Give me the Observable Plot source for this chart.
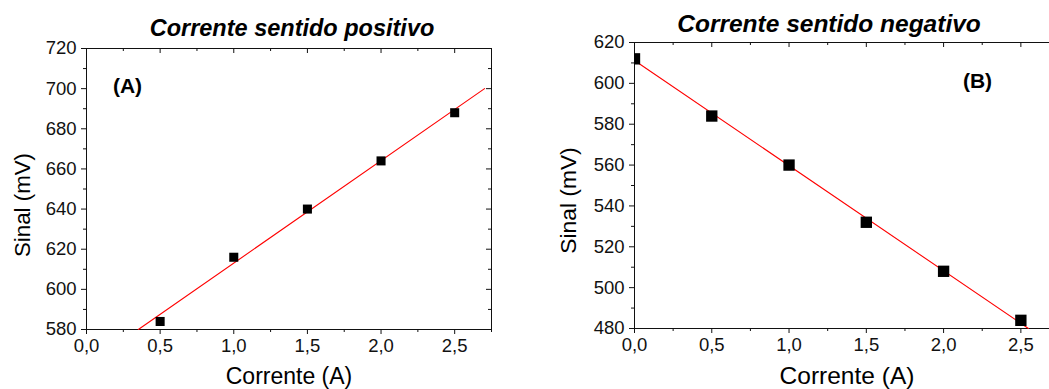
<!DOCTYPE html>
<html>
<head>
<meta charset="utf-8">
<script src="https://cdn.jsdelivr.net/npm/d3@7"></script>
<script src="https://cdn.jsdelivr.net/npm/@observablehq/plot@0.6"></script>
<style>
  html, body { margin: 0; padding: 0; background: #fff; overflow: hidden; }
  #wrap { position: relative; width: 1049px; height: 389px; overflow: hidden; font-family: "Liberation Sans", Arial, sans-serif; }
  #wrap svg { position: absolute; top: 0; overflow: visible; }
</style>
</head>
<body>
<div id="wrap"></div>
<script>
// ---- data ----
const titleA = "Corrente sentido positivo";
const titleB = "Corrente sentido negativo";
const xLabel = "Corrente (A)";
const yLabel = "Sinal (mV)";
const tagA = "(A)";
const tagB = "(B)";

const currentA = [0.5, 1.0, 1.5, 2.0, 2.5];
const signalA  = [584, 616, 640, 664, 688];
const currentB = [0.0, 0.5, 1.0, 1.5, 2.0, 2.5];
const signalB  = [612, 584, 560, 532, 508, 484];

// fitted straight lines (end points)
const fitAx = [0.352, 2.703];
const fitAy = [580, 700];
const fitBx = [0.0, 2.549];
const fitBy = [611.2, 480];

const xTicks  = [0, 0.5, 1.0, 1.5, 2.0, 2.5];
const xMinor  = [0.25, 0.75, 1.25, 1.75, 2.25, 2.75];
const yTicksA = [580, 600, 620, 640, 660, 680, 700, 720];
const yMinorA = [590, 610, 630, 650, 670, 690, 710];
const yTicksB = [480, 500, 520, 540, 560, 580, 600, 620];
const yMinorB = [490, 510, 530, 550, 570, 590, 610];

const xDomain  = [0, 2.75];
const yDomainA = [580, 720];
const yDomainB = [480, 620];

// ---- helpers ----
const fmt = d => d.toFixed(1).replace(".", ",");
const blank = () => "";
const toRows = (xs, ys) => xs.map((x, i) => ({x, y: ys[i]}));

function panel(o) {
  const pw = o.w - o.ml - o.mr;   // inner plot width
  const ph = o.h - o.mt - o.mb;   // inner plot height
  const axisStyle = {stroke: "#111", fontSize: o.tickFont, label: null};
  const tickStyle = {stroke: "#111", strokeWidth: 1};
  return Plot.plot({
    width: o.w, height: o.h,
    marginLeft: o.ml, marginRight: o.mr, marginTop: o.mt, marginBottom: o.mb,
    style: {fontFamily: "'Liberation Sans', Arial, sans-serif", fontSize: o.tickFont + "px", color: "#111", background: "transparent", overflow: "visible"},
    x: {domain: xDomain},
    y: {domain: o.yDomain},
    marks: [
      Plot.frame({stroke: "#111", strokeWidth: 1}),
      // bottom axis (outward ticks)
      Plot.axisX(xTicks, {...axisStyle, anchor: "bottom", tickSize: 5, tickPadding: 4, tickFormat: fmt}),
      Plot.axisX(xMinor, {...axisStyle, anchor: "bottom", tickSize: 3, tickFormat: blank}),
      // left axis (outward ticks)
      Plot.axisY(o.yTicks, {...axisStyle, anchor: "left", tickSize: 5, tickPadding: 5, tickFormat: d => String(d)}),
      Plot.axisY(o.yMinor, {...axisStyle, anchor: "left", tickSize: 3, tickFormat: blank}),
      // top axis (inward ticks)
      Plot.tickX(xTicks, {x: d => d, ...tickStyle, insetBottom: ph - 5}),
      Plot.tickX(xMinor, {x: d => d, ...tickStyle, insetBottom: ph - 3}),
      // right axis (inward ticks)
      Plot.tickY(o.yTicks, {y: d => d, ...tickStyle, insetLeft: pw - 5}),
      Plot.tickY(o.yMinor, {y: d => d, ...tickStyle, insetLeft: pw - 3}),
      // fit line
      Plot.line(o.fit, {x: "x", y: "y", stroke: "#ff0000", strokeWidth: 1.1}),
      // data points
      Plot.dot(o.pts, {x: "x", y: "y", symbol: "square", r: o.r, fill: "#000", stroke: "none", clip: o.clipDots}),
      // title
      Plot.text([o.title], {frameAnchor: "top", dx: o.titleDx, dy: o.titleDy, textAnchor: "middle", lineAnchor: "middle", fontSize: o.titleFont, fontWeight: "bold", fontStyle: "italic", fill: "#000"}),
      // panel tag
      Plot.text([o.tag], {frameAnchor: "top-left", dx: o.tagDx, dy: o.tagDy, lineAnchor: "middle", textAnchor: "middle", fontSize: o.tagFont, fontWeight: "bold", fill: "#000"}),
      // axis titles
      Plot.text([xLabel], {frameAnchor: "bottom", dy: o.xlDy, textAnchor: "middle", lineAnchor: "middle", fontSize: o.xlFont, fill: "#000"}),
      Plot.text([yLabel], {frameAnchor: "left", dx: o.ylDx, dy: o.ylDy, rotate: -90, textAnchor: "middle", lineAnchor: "middle", fontSize: o.ylFont, fill: "#000"})
    ]
  });
}

const wrap = document.getElementById("wrap");

const svgA = panel({
  w: 500, h: 389, ml: 86, mr: 9, mt: 48, mb: 60,
  yDomain: yDomainA, yTicks: yTicksA, yMinor: yMinorA,
  pts: toRows(currentA, signalA), fit: toRows(fitAx, fitAy), r: 5.1, clipDots: false,
  tickFont: 18.5, titleFont: 23.5, tagFont: 21, xlFont: 23, ylFont: 22.3,
  title: titleA, titleDx: 3, titleDy: -20,
  tag: tagA, tagDx: 41, tagDy: 38,
  ylDx: -64, ylDy: 16, xlDy: 47
});
svgA.style.left = "0px";
wrap.appendChild(svgA);

const svgB = panel({
  w: 534, h: 389, ml: 104, mr: 5, mt: 42, mb: 61,
  yDomain: yDomainB, yTicks: yTicksB, yMinor: yMinorB,
  pts: toRows(currentB, signalB), fit: toRows(fitBx, fitBy), r: 6.4, clipDots: true,
  tickFont: 18.5, titleFont: 24.5, tagFont: 21, xlFont: 24.5, ylFont: 22.8,
  title: titleB, titleDx: -18, titleDy: -18,
  tag: tagB, tagDx: 343, tagDy: 39,
  ylDx: -66, ylDy: 15, xlDy: 48
});
svgB.style.left = "530px";
wrap.appendChild(svgB);
</script>
</body>
</html>
